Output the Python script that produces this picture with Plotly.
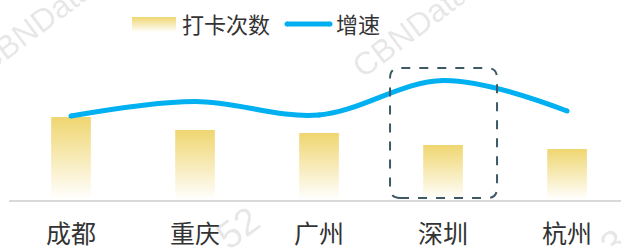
import plotly.graph_objects as go

categories = ["成都", "重庆", "广州", "深圳", "杭州"]
checkins = [83, 70, 67, 55, 51]          # 打卡次数 (relative)
growth = [84, 98.5, 85, 119.5, 89]       # 增速 (relative)

W, H = 621, 250
BAR_TOP = "#efd670"
LINE_C = "#00b0f0"
TEXT_C = "#333333"
FONT = "Noto Sans CJK SC"
bar_half = 0.16

fig = go.Figure()
xs = list(range(len(categories)))

# gradient bars (one filled polygon per bar)
for i, v in zip(xs, checkins):
    fig.add_trace(go.Scatter(
        x=[i - bar_half, i + bar_half, i + bar_half, i - bar_half, i - bar_half],
        y=[0, 0, v, v, 0], mode="lines", fill="toself", line=dict(width=0),
        fillgradient=dict(type="vertical", colorscale=[[0, "#ffffff"], [1, BAR_TOP]]),
        hoverinfo="skip", showlegend=False, xaxis="x", yaxis="y"))

# growth line
fig.add_trace(go.Scatter(
    x=xs, y=growth, mode="lines+markers", line=dict(color=LINE_C, width=5, shape="spline", smoothing=1),
    marker=dict(color=LINE_C, size=5), showlegend=False, xaxis="x", yaxis="y2"))

# legend icons on an overlay pixel axis
fig.add_trace(go.Scatter(
    x=[132, 176, 176, 132, 132], y=[H - 32, H - 32, H - 17, H - 17, H - 32], mode="lines",
    fill="toself", line=dict(width=0),
    fillgradient=dict(type="vertical", colorscale=[[0, "#ffffff"], [1, BAR_TOP]]),
    hoverinfo="skip", showlegend=False, xaxis="x3", yaxis="y3"))
fig.add_trace(go.Scatter(
    x=[287, 330], y=[H - 24, H - 24], mode="lines+markers",
    line=dict(color=LINE_C, width=5), marker=dict(color=LINE_C, size=5),
    hoverinfo="skip", showlegend=False, xaxis="x3", yaxis="y3"))

fig.add_annotation(text="打卡次数", x=180 / W, y=1 - 23 / H, xref="paper", yref="paper",
                   xanchor="left", yanchor="middle", showarrow=False,
                   font=dict(family=FONT, size=22, color=TEXT_C))
fig.add_annotation(text="增速", x=334 / W, y=1 - 23 / H, xref="paper", yref="paper",
                   xanchor="left", yanchor="middle", showarrow=False,
                   font=dict(family=FONT, size=22, color=TEXT_C))

# watermarks (drawn beneath the chart)
for txt, px, py, sz in [("CBNData", 34, 26, 32), ("CBNData", 410, 30, 32),
                        ("52", 238, 228, 38), ("3", 613, 244, 38)]:
    fig.add_annotation(text=txt, x=px / W, y=1 - py / H, xref="paper", yref="paper",
                       xanchor="center", yanchor="middle", showarrow=False, textangle=-37,
                       font=dict(family="Liberation Sans", size=sz, color="rgba(0,0,0,0.11)"))

# dashed rounded highlight box around 深圳 (pixel offsets around the category)
r = 10
x0, x1, y0, y1 = -53, 54, 2, 132
path = (f"M {x0 + r},{y0} L {x1 - r},{y0} Q {x1},{y0} {x1},{y0 + r} "
        f"L {x1},{y1 - r} Q {x1},{y1} {x1 - r},{y1} L {x0 + r},{y1} "
        f"Q {x0},{y1} {x0},{y1 - r} L {x0},{y0 + r} Q {x0},{y0} {x0 + r},{y0} Z")
fig.add_shape(type="path", path=path, xref="x", yref="y", xsizemode="pixel", ysizemode="pixel",
              xanchor=categories.index("深圳"), yanchor=0,
              line=dict(color="#3d5966", width=2, dash="dash"))

fig.update_layout(
    width=W, height=H, margin=dict(l=0, r=0, t=0, b=0, pad=0, autoexpand=False),
    plot_bgcolor="rgba(0,0,0,0)", paper_bgcolor="white", showlegend=False,
    xaxis=dict(domain=[9 / W, 1], range=[-0.5, 4.435], tickvals=xs, ticktext=categories,
               showline=True, linecolor="#d9d9d9", linewidth=2, showgrid=False, zeroline=False,
               ticks="", automargin=False, ticklabelstandoff=11,
               tickfont=dict(family=FONT, size=25, color=TEXT_C)),
    yaxis=dict(domain=[50 / H, 190 / H], range=[0, 140], visible=False, automargin=False),
    yaxis2=dict(domain=[50 / H, 190 / H], range=[0, 140], overlaying="y", visible=False, automargin=False),
    xaxis3=dict(domain=[0, 1], range=[0, W], visible=False, anchor="y3", automargin=False),
    yaxis3=dict(domain=[0, 1], range=[0, H], visible=False, anchor="x3", automargin=False),
)

fig.write_html("out.html", config={"displayModeBar": False, "staticPlot": True},
               post_script="document.body.style.margin='0';")
